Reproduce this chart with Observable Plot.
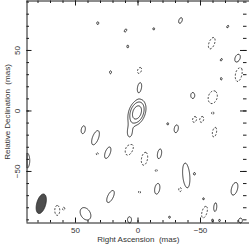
<!DOCTYPE html>
<html><head><meta charset="utf-8">
<script src="https://cdn.jsdelivr.net/npm/d3@7"></script>
<script src="https://cdn.jsdelivr.net/npm/@observablehq/plot@0.6"></script>
<style>body{margin:0;background:#fff}</style>
</head><body><div id="chart"></div>
<script>
// Axis extents (mas)
const raDomain = [88.8, -89.2];
const decDomain = [-92.6, 90.9];
const majorTicks = [-50, 0, 50];
const minorTicksX = d3.range(-80, 81, 10);
const minorTicksY = d3.range(-90, 91, 10);
const xLabel = "Right Ascension\u00a0 (mas)";
const yLabel = "Relative Declination\u00a0 (mas)";

// contour levels (units of the lowest contour)
const levels = [1, 2, 4];

// components: [RA, Dec, semi-major, semi-minor (lowest contour, mas), PA deg, peak]
const coreComponents = [
  [0.8, -1.2, 11.2, 6.6, -18, 6.4],
  [6.5, -18.5, 5.0, 2.0, 0, 1.5]
];
// isolated positive features: [RA, Dec, a, b, PA]
const positiveBlobs = [
  [32.2, 72.6, 1.2, 0.8, 0], [10, 66.5, 1.5, 0.8, -30], [22, 32, 1.3, 0.8, 0],
  [-34, 74.8, 2.5, 1.3, -20], [-12.6, 67.9, 1, 0.7, 0], [8.2, 53.3, 1.2, 0.7, 0],
  [-71.8, 69.8, 1.2, 0.7, -30], [-66.6, 42.3, 1.2, 0.7, -30], [-79.8, 43.1, 4.1, 2.4, -15],
  [-1.2, 19.4, 4.1, 1.6, -10], [-66.6, 26.6, 1.2, 0.7, 0], [-43.8, 12.8, 2.5, 1.6, 0],
  [-23.8, -10.6, 1, 0.7, 0], [-30.6, -14.7, 3.3, 1.6, -10], [-17.2, -35.4, 4.1, 1.6, -10],
  [-38.6, -53.3, 10.3, 2.8, 5], [-45.2, -51.9, 1, 0.7, 0], [-15.4, -64.3, 4.5, 2, -10],
  [-77.2, -64.3, 5.4, 2.4, -15], [-52.4, -72.6, 1, 0.7, 0], [-61.8, -79.5, 3.7, 1.2, -5],
  [6.8, -89.9, 2.5, 1.6, 0], [-25.2, -87.8, 1, 0.7, 0], [-59.6, -90.5, 1.2, 0.7, 0],
  [-65.2, -90.5, 1, 0.7, 0], [-82, -90.5, 2, 1.5, 0], [43.8, -15.5, 3.3, 1.6, -10],
  [34, -22.1, 6.2, 2.4, -20], [24.2, -34.5, 5, 2, -20], [89.2, -41, 6.6, 2.6, 0],
  [22, -70.7, 5.4, 2.2, -25], [42, -85, 5.5, 3.8, 30]
];
// isolated negative features (dashed)
const negativeBlobs = [
  [-59, 56, 5, 2.2, -20], [-80.6, 30.7, 6.4, 2.6, -10], [-1.2, 33.5, 2.6, 1.5, -20],
  [-59.8, 11.4, 5.4, 3.5, -15], [-59.8, -1.8, 1.2, 0.8, 0], [-45.2, -7, 2.5, 1.5, -15],
  [-51, -7, 2.5, 1.5, -15], [-61.2, -17.5, 4.1, 1.6, -10], [6.8, -31, 5.8, 3, -20],
  [-5.2, -39.5, 5.4, 2.4, -10], [-14.6, -49.2, 1.2, 0.8, 0], [-1.2, -67.1, 1.2, 0.8, 0],
  [-33.8, -64.9, 2, 1.3, 0], [-53.2, -83.6, 5, 2, -15], [32.6, -35.4, 1.2, 0.8, 0],
  [64.6, -82.2, 4.1, 2, 0], [59.4, -80.8, 1.2, 0.8, 0]
];
// restoring beam
const beam = [77.4, -76.7, 8.3, 3.6, -15, 1.6];
const blobPeak = 1.6;

function gauss(c, x, y) {
  const [ra, dec, a, b, pa, amp] = c;
  const k = Math.sqrt(2 * Math.log(Math.abs(amp)));
  const sa = a / k, sb = b / k, t = pa * Math.PI / 180;
  const dx = x - ra, dy = y - dec;
  const u = dx * Math.sin(t) + dy * Math.cos(t);
  const v = dx * Math.cos(t) - dy * Math.sin(t);
  return amp * Math.exp(-(u * u / (2 * sa * sa) + v * v / (2 * sb * sb)));
}
const comps = [
  ...coreComponents,
  ...positiveBlobs.map(d => [...d, blobPeak]),
  ...negativeBlobs.map(d => [...d, -blobPeak])
];
function field(x, y) {
  let s = 0;
  for (const c of comps) s += gauss(c, x, y);
  return s;
}

const W = 249, H = 245, mL = 26.5, mR = 0, mT = 0.5, mB = 22.5;
const FW = W - mL - mR, FH = H - mT - mB;
const fmt = d => d < 0 ? "\u2212" + (-d) : String(d);
const ink = "#1a1a1a";
const ext = {x1: raDomain[0], x2: raDomain[1], y1: decDomain[0], y2: decDomain[1]};
const isMajor = d => d % 50 === 0;

const plot = Plot.plot({
  width: W, height: H,
  marginLeft: mL, marginRight: mR, marginTop: mT, marginBottom: mB,
  x: {domain: raDomain, axis: null},
  y: {domain: decDomain, axis: null},
  style: {fontFamily: "Liberation Sans, Arial, sans-serif", background: "#fff"},
  marks: [
    Plot.contour({...ext, value: (x, y) => gauss(beam, x, y), thresholds: [1], pixelSize: 1,
      fill: "#4d4d4d", stroke: "#222", strokeWidth: 0.8}),
    Plot.contour({...ext, value: field, thresholds: levels, pixelSize: 1,
      fill: "none", stroke: ink, strokeWidth: 0.85}),
    Plot.contour({...ext, value: (x, y) => -field(x, y), thresholds: [1], pixelSize: 1,
      fill: "none", stroke: ink, strokeWidth: 0.85, strokeDasharray: "2,1.6"}),
    // frame: left, top, bottom
    Plot.ruleX([raDomain[0]], {x: d => d, stroke: ink, strokeWidth: 1}),
    Plot.ruleY([decDomain[1]], {y: d => d, stroke: ink, strokeWidth: 1}),
    Plot.ruleY([decDomain[0]], {y: d => d, stroke: ink, strokeWidth: 1}),
    // ticks (inward)
    Plot.ruleX(minorTicksX, {x: d => d, insetTop: d => 0, stroke: ink, strokeWidth: 1,
      insetTop: FH - 2.5}),
    Plot.ruleX(majorTicks, {x: d => d, stroke: ink, strokeWidth: 1, insetTop: FH - 5}),
    Plot.ruleX(minorTicksX, {x: d => d, stroke: ink, strokeWidth: 1, insetBottom: FH - 2.5}),
    Plot.ruleX(majorTicks, {x: d => d, stroke: ink, strokeWidth: 1, insetBottom: FH - 5}),
    Plot.ruleY(minorTicksY, {y: d => d, stroke: ink, strokeWidth: 1, insetRight: FW - 2.5}),
    Plot.ruleY(majorTicks, {y: d => d, stroke: ink, strokeWidth: 1, insetRight: FW - 5}),
    Plot.ruleY(minorTicksY, {y: d => d, stroke: ink, strokeWidth: 1, insetLeft: FW - 6, insetRight: 2.5}),
    Plot.ruleY(majorTicks, {y: d => d, stroke: ink, strokeWidth: 1, insetLeft: FW - 9, insetRight: 2.5}),
    // tick labels
    Plot.text(majorTicks, {x: d => d, frameAnchor: "bottom", dy: 7.5, text: fmt,
      lineAnchor: "middle", fontSize: 8, fill: "#333"}),
    Plot.text(majorTicks, {y: d => d, frameAnchor: "left", dx: -9.5, rotate: -90, text: fmt,
      textAnchor: "middle", lineAnchor: "middle", fontSize: 8, fill: "#333"}),
    // axis titles
    Plot.text([xLabel], {frameAnchor: "bottom", dy: 16, text: d => d, lineAnchor: "middle",
      fontSize: 8, fill: "#333"}),
    Plot.text([yLabel], {frameAnchor: "left", dx: -19.5, rotate: -90, text: d => d,
      lineAnchor: "middle", textAnchor: "middle", fontSize: 8, fill: "#333"})
  ]
});
document.getElementById("chart").appendChild(plot);
</script>
</body></html>
